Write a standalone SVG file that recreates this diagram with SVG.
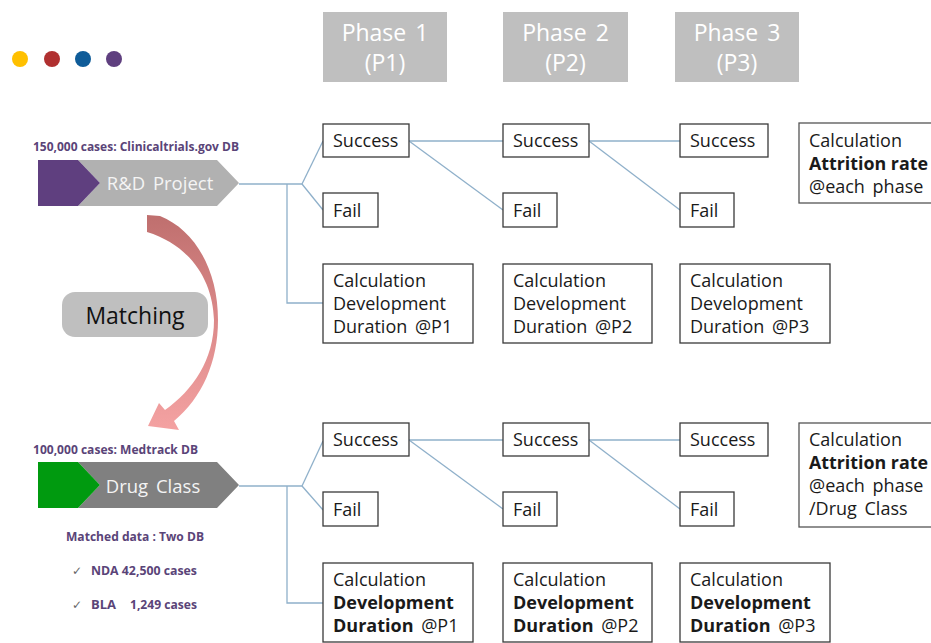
<svg xmlns="http://www.w3.org/2000/svg" width="931" height="643" viewBox="0 0 931 643">
<defs>
<linearGradient id="arrowGrad" x1="0" y1="0" x2="0" y2="1">
<stop offset="0" stop-color="#bf6f6e"/>
<stop offset="0.5" stop-color="#dc8a8a"/>
<stop offset="1" stop-color="#f4a2a2"/>
</linearGradient>
</defs>
<style>
.box{fill:#fff;stroke:#3a3a3a;stroke-width:1.3}
.abox{fill:#fff;stroke:#555;stroke-width:1.3}
.t{font-family:"Open Sans","Noto Sans",sans-serif;font-size:18px;fill:#1a1a1a;word-spacing:3px}
.b{font-weight:bold}
.ph{fill:#bfbfbf}
.pht{font-family:"Open Sans","Noto Sans",sans-serif;font-size:23px;fill:#fff;text-anchor:middle;word-spacing:3px}
.lbl{font-family:"Open Sans","Noto Sans",sans-serif;font-size:13px;font-weight:bold;fill:#5a4478}
.chk{font-family:"DejaVu Sans",sans-serif;font-size:12px;fill:#666}
.con{fill:none;stroke:#8fb0ca;stroke-width:1.3}
</style>
<rect width="931" height="643" fill="#fff"/>

<g id="dots">
<circle cx="20" cy="59" r="8" fill="#ffc000"/>
<circle cx="52" cy="59" r="8" fill="#b03030"/>
<circle cx="83" cy="59" r="8" fill="#0f5c99"/>
<circle cx="114" cy="59" r="8" fill="#5f3f7f"/>
</g>

<g id="phase1"><rect class="ph" x="323" y="12" width="124" height="70"/><text class="pht" x="385" y="41">Phase 1</text><text class="pht" x="385" y="71">(P1)</text></g>
<g id="phase2"><rect class="ph" x="503" y="12" width="125" height="70"/><text class="pht" x="565.5" y="41">Phase 2</text><text class="pht" x="565.5" y="71">(P2)</text></g>
<g id="phase3"><rect class="ph" x="675" y="12" width="124" height="70"/><text class="pht" x="737" y="41">Phase 3</text><text class="pht" x="737" y="71">(P3)</text></g>

<g id="connectors">
<polyline class="con" points="239,184 302,184"/>
<polyline class="con" points="302,184 323,141"/>
<polyline class="con" points="302,184 323,210"/>
<polyline class="con" points="287,184 287,303 323,303"/>
<polyline class="con" points="409,141 503,141"/>
<polyline class="con" points="409,141 503,210"/>
<polyline class="con" points="589,141 680,141"/>
<polyline class="con" points="589,141 680,210"/>
<polyline class="con" points="239,486 302,486"/>
<polyline class="con" points="302,486 323,441"/>
<polyline class="con" points="302,486 323,510"/>
<polyline class="con" points="287,486 287,603 323,603"/>
<polyline class="con" points="409,440 503,440"/>
<polyline class="con" points="409,440 503,509"/>
<polyline class="con" points="589,440 680,440"/>
<polyline class="con" points="589,440 680,509"/>
</g>

<g id="rd-project">
<text class="lbl" x="33" y="151" textLength="206" lengthAdjust="spacingAndGlyphs">150,000 cases: Clinicaltrials.gov DB</text>
<polygon points="78,160 217,160 239,183 217,206 78,206 100,183" fill="#b1b1b1"/>
<polygon points="38,160 78,160 100,183 78,206 38,206" fill="#5f3f7f"/>
<text x="160" y="190" font-family="'Open Sans','Noto Sans',sans-serif" font-size="18.5" fill="#f4f4f4" text-anchor="middle" word-spacing="3">R&amp;D Project</text>
</g>

<g id="matching">
<path d="M147,215 L160,216 C195,230 218,270 218,320 C218,362 202,398 174,421 L179,430 L148,426 L159,403 L165,410 C193,390 214,360 214,320 C213,282 192,246 147,232 Z" fill="url(#arrowGrad)"/>
<rect x="62" y="292" width="146" height="45" rx="13" fill="#bfbfbf"/>
<text x="135" y="324" font-family="'Open Sans','Noto Sans',sans-serif" font-size="23" fill="#111" text-anchor="middle">Matching</text>
</g>

<g id="drug-class">
<text class="lbl" x="33" y="454" textLength="165" lengthAdjust="spacingAndGlyphs">100,000 cases: Medtrack DB</text>
<polygon points="78,462 217,462 239,485 217,508 78,508 100,485" fill="#808080"/>
<polygon points="38,462 78,462 100,485 78,508 38,508" fill="#009a0f"/>
<text x="153" y="493" font-family="'Open Sans','Noto Sans',sans-serif" font-size="18.5" fill="#f4f4f4" text-anchor="middle" word-spacing="3">Drug Class</text>
</g>

<g id="matched-data">
<text class="lbl" x="66" y="541" textLength="138" lengthAdjust="spacingAndGlyphs">Matched data : Two DB</text>
<text class="chk" x="72" y="575">✓</text>
<text class="lbl" x="91" y="575" textLength="106" lengthAdjust="spacingAndGlyphs">NDA 42,500 cases</text>
<text class="chk" x="72" y="609">✓</text>
<text class="lbl" x="91" y="609">BLA</text>
<text class="lbl" x="130" y="609" textLength="67" lengthAdjust="spacingAndGlyphs">1,249 cases</text>
</g>

<!-- top row -->
<g id="t-s1"><rect class="box" x="323" y="124" width="86" height="33"/><text class="t" x="333" y="147">Success</text></g>
<g id="t-f1"><rect class="box" x="323" y="193" width="55" height="34"/><text class="t" x="333" y="217">Fail</text></g>
<g id="t-c1"><rect class="box" x="323" y="264" width="150" height="79"/><text class="t" x="333" y="287">Calculation</text><text class="t" x="333" y="310">Development</text><text class="t" x="333" y="333">Duration @P1</text></g>
<g id="t-s2"><rect class="box" x="503" y="124" width="86" height="33"/><text class="t" x="513" y="147">Success</text></g>
<g id="t-f2"><rect class="box" x="503" y="193" width="54" height="34"/><text class="t" x="513" y="217">Fail</text></g>
<g id="t-c2"><rect class="box" x="503" y="264" width="149" height="79"/><text class="t" x="513" y="287">Calculation</text><text class="t" x="513" y="310">Development</text><text class="t" x="513" y="333">Duration @P2</text></g>
<g id="t-s3"><rect class="box" x="680" y="124" width="88" height="33"/><text class="t" x="690" y="147">Success</text></g>
<g id="t-f3"><rect class="box" x="680" y="193" width="54" height="34"/><text class="t" x="690" y="217">Fail</text></g>
<g id="t-c3"><rect class="box" x="680" y="264" width="150" height="79"/><text class="t" x="690" y="287">Calculation</text><text class="t" x="690" y="310">Development</text><text class="t" x="690" y="333">Duration @P3</text></g>
<g id="t-attr"><rect class="abox" x="799" y="123" width="145" height="80"/><text class="t" x="809" y="147">Calculation</text><text class="t b" x="809" y="170" style="word-spacing:0" textLength="119" lengthAdjust="spacingAndGlyphs">Attrition rate</text><text class="t" x="809" y="193">@each phase</text></g>

<!-- bottom row -->
<g id="b-s1"><rect class="box" x="323" y="423" width="86" height="33"/><text class="t" x="333" y="446">Success</text></g>
<g id="b-f1"><rect class="box" x="323" y="492" width="55" height="34"/><text class="t" x="333" y="516">Fail</text></g>
<g id="b-c1"><rect class="box" x="323" y="563" width="150" height="79"/><text class="t" x="333" y="586">Calculation</text><text class="t b" x="333" y="609">Development</text><text class="t" x="333" y="632"><tspan class="b">Duration</tspan> @P1</text></g>
<g id="b-s2"><rect class="box" x="503" y="423" width="86" height="33"/><text class="t" x="513" y="446">Success</text></g>
<g id="b-f2"><rect class="box" x="503" y="492" width="54" height="34"/><text class="t" x="513" y="516">Fail</text></g>
<g id="b-c2"><rect class="box" x="503" y="563" width="149" height="79"/><text class="t" x="513" y="586">Calculation</text><text class="t b" x="513" y="609">Development</text><text class="t" x="513" y="632"><tspan class="b">Duration</tspan> @P2</text></g>
<g id="b-s3"><rect class="box" x="680" y="423" width="88" height="33"/><text class="t" x="690" y="446">Success</text></g>
<g id="b-f3"><rect class="box" x="680" y="492" width="54" height="34"/><text class="t" x="690" y="516">Fail</text></g>
<g id="b-c3"><rect class="box" x="680" y="563" width="150" height="79"/><text class="t" x="690" y="586">Calculation</text><text class="t b" x="690" y="609">Development</text><text class="t" x="690" y="632"><tspan class="b">Duration</tspan> @P3</text></g>
<g id="b-attr"><rect class="abox" x="799" y="423" width="145" height="104"/><text class="t" x="809" y="446">Calculation</text><text class="t b" x="809" y="469" style="word-spacing:0" textLength="119" lengthAdjust="spacingAndGlyphs">Attrition rate</text><text class="t" x="809" y="492">@each phase</text><text class="t" x="809" y="515">/Drug Class</text></g>
</svg>
